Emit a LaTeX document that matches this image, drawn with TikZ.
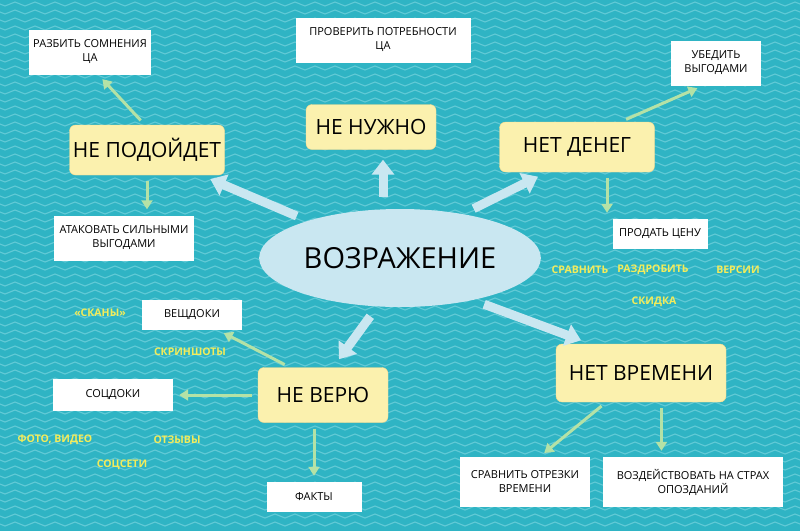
\documentclass[tikz,border=0pt]{standalone}
\usepackage{fontspec}
\setmainfont{Open Sans}
\usetikzlibrary{arrows.meta,shapes.geometric}
\definecolor{sea}{HTML}{2FB4C4}
\definecolor{wave}{HTML}{62CAD6}
\definecolor{pale}{HTML}{FBF1AE}
\definecolor{sky}{HTML}{C9E7F1}
\definecolor{leaf}{HTML}{B4E2A6}
\definecolor{hint}{HTML}{F3EC5A}

\begin{document}
\begin{tikzpicture}[x=1pt,y=-1pt,
	topic/.style={draw=pale!80!orange,fill=pale,rounded corners=6pt,font=\fontsize{21}{24}\selectfont,align=center},
	tip/.style={fill=white,font=\fontsize{11}{14}\selectfont,align=center,inner sep=4pt},
	hintword/.style={text=hint,font=\bfseries\fontsize{10.5}{12}\selectfont},
	big/.style={draw=sky,line width=9pt,-{Triangle[width=22pt,length=15pt]},shorten <=12pt,shorten >=10pt},
	small/.style={draw=leaf,line width=3pt,-{Triangle[width=11pt,length=9pt]},shorten <=6pt,shorten >=6pt}]
	\useasboundingbox (0,0) rectangle (800,531);
	\fill[sea] (0,0) rectangle (800,531);
	% waves
	\foreach \y in {4,12,...,531}
		\draw[wave,line width=1.1pt] plot[domain=0:800,samples=161] (\x,{\y+2*sin(\x*18)});
	
	\node[ellipse,fill=sky,minimum width=222pt,minimum height=98pt,font=\fontsize{29}{32}\selectfont] (obj) at (400,258) {ВОЗРАЖЕНИЕ};
	
	\node[topic,minimum width=155pt,minimum height=50pt] (nepod)   at (147,150) {НЕ ПОДОЙДЕТ};
	\node[topic,minimum width=130pt,minimum height=45pt] (nenuzh)  at (371,127) {НЕ НУЖНО};
	\node[topic,minimum width=155pt,minimum height=50pt] (netden)  at (577,147) {НЕТ ДЕНЕГ};
	\node[topic,minimum width=170pt,minimum height=58pt] (netvrem) at (641,373) {НЕТ ВРЕМЕНИ};
	\node[topic,minimum width=130pt,minimum height=55pt] (neveryu) at (323,395) {НЕ ВЕРЮ};
	
	\node[tip,minimum width=100pt,minimum height=45pt] (razbit) at (90,52)   {РАЗБИТЬ СОМНЕНИЯ\\ЦА};
	\node[tip,minimum width=175pt,minimum height=45pt] (prover) at (383,40)  {ПРОВЕРИТЬ ПОТРЕБНОСТИ\\ЦА};
	\node[tip,minimum width=90pt,minimum height=45pt]  (ubed)   at (716,63)  {УБЕДИТЬ\\ВЫГОДАМИ};
	\node[tip,minimum width=140pt,minimum height=45pt] (atak)   at (124,238) {АТАКОВАТЬ СИЛЬНЫМИ\\ВЫГОДАМИ};
	\node[tip,minimum width=95pt,minimum height=30pt]  (prodat) at (660,234) {ПРОДАТЬ ЦЕНУ};
	\node[tip,minimum width=100pt,minimum height=30pt] (veshch) at (192,315) {ВЕЩДОКИ};
	\node[tip,minimum width=120pt,minimum height=32pt] (socdok) at (113,395) {СОЦДОКИ};
	\node[tip,minimum width=95pt,minimum height=30pt]  (fakty)  at (314,497) {ФАКТЫ};
	\node[tip,minimum width=130pt,minimum height=50pt] (sravn)  at (525,482) {СРАВНИТЬ ОТРЕЗКИ\\ВРЕМЕНИ};
	\node[tip,minimum width=180pt,minimum height=50pt] (vozd)   at (693,482) {ВОЗДЕЙСТВОВАТЬ НА СТРАХ\\ОПОЗДАНИЙ};
	
	\node[hintword] (h1) at (580,270) {СРАВНИТЬ};
	\node[hintword] (h2) at (653,270) {РАЗДРОБИТЬ};
	\node[hintword] (h3) at (738,270) {ВЕРСИИ};
	\node[hintword] (h4) at (654,302) {СКИДКА};
	\node[hintword] (h5) at (100,313) {«СКАНЫ»};
	\node[hintword] (h6) at (190,352) {СКРИНШОТЫ};
	\node[hintword] (h7) at (55,440)  {ФОТО, ВИДЕО};
	\node[hintword] (h8) at (177,440) {ОТЗЫВЫ};
	\node[hintword] (h9) at (122,465) {СОЦСЕТИ};
	
	\draw[big] (obj.158) -- (nepod.-25);
	\draw[big] ([xshift=-17pt]obj.north) -- ([xshift=12pt]nenuzh.south);
	\draw[big] (obj.35) -- (netden.-140);
	\draw[big] (obj.-30) -- (netvrem.150);
	\draw[big] (obj.-115) -- (neveryu.70);
	
	\draw[small] (nepod.95) -- (razbit.-70);
	\draw[small] (nepod.south) -- (atak.north -| nepod.south);
	\draw[small] (netden.30) -- (ubed.-120);
	\draw[small] (netden.-40) -- (prodat.north -| netden.-40);
	\draw[small] (neveryu.140) -- (veshch.-30);
	\draw[small] (neveryu.west) -- (socdok.east);
	\draw[small] (neveryu.south -| fakty.north) -- (fakty.north);
	\draw[small] (netvrem.-140) -- (sravn.60);
	\draw[small] (netvrem.-55) -- (vozd.north -| netvrem.-55);
\end{tikzpicture}
\end{document}
